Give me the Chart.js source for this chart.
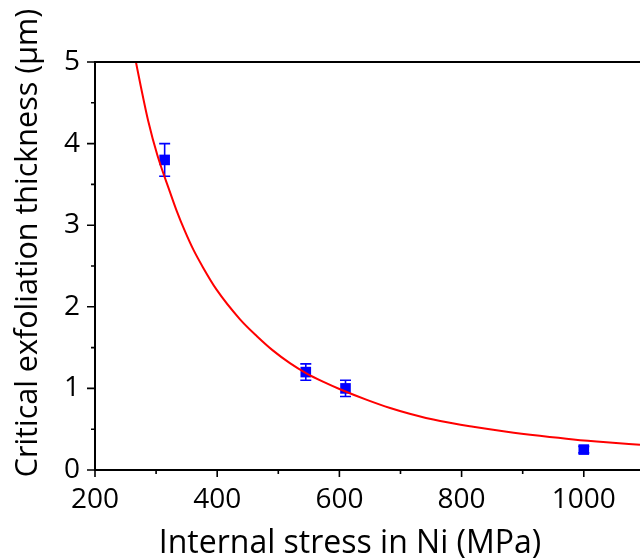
<!DOCTYPE html>
<html>
<head>
<meta charset="utf-8">
<script src="https://cdn.jsdelivr.net/npm/chart.js@4.4.1/dist/chart.umd.min.js"></script>
<style>
  html, body { margin: 0; padding: 0; background: #fff; }
  #wrap { position: relative; width: 640px; height: 559px; }
</style>
</head>
<body>
<div id="wrap"><canvas id="chart"></canvas></div>
<script>
// measured points (with error bars)
const stress = [314, 545, 610, 1000];
const thickness = [3.8, 1.2, 1.0, 0.25];
const thicknessErr = [0.2, 0.1, 0.1, 0.04];

// fitted curve
const fitX = [267, 275, 287, 302, 323, 334, 347, 361, 377, 399, 437, 465, 492, 519, 546, 574, 601, 645, 683, 715, 765, 819, 874, 928, 983, 1037, 1092];
const fitY = [5.00, 4.70, 4.28, 3.86, 3.40, 3.17, 2.93, 2.70, 2.48, 2.21, 1.85, 1.64, 1.46, 1.31, 1.185, 1.08, 0.99, 0.86, 0.76, 0.69, 0.60, 0.53, 0.47, 0.42, 0.375, 0.34, 0.31];

// axis ticks
const xMajor = [200, 400, 600, 800, 1000];
const xMinor = [300, 500, 700, 900];
const yMajor = [0, 1, 2, 3, 4, 5];
const yMinor = [0.5, 1.5, 2.5, 3.5, 4.5];

const xTitle = 'Internal stress in Ni (MPa)';
const yTitle = 'Critical exfoliation thickness (\u03bcm)';

const FONT = '"Open Sans", "Liberation Sans", sans-serif';

// error bars under the markers
const errorBars = {
  id: 'errorBars',
  beforeDatasetsDraw(chart) {
    const { ctx, scales: { x, y } } = chart;
    ctx.save();
    ctx.strokeStyle = '#0000ff';
    ctx.lineWidth = 1.6;
    stress.forEach((sx, i) => {
      const px = x.getPixelForValue(sx);
      const top = y.getPixelForValue(thickness[i] + thicknessErr[i]);
      const bot = y.getPixelForValue(thickness[i] - thicknessErr[i]);
      ctx.beginPath();
      ctx.moveTo(px, top); ctx.lineTo(px, bot);
      ctx.moveTo(px - 5.5, top); ctx.lineTo(px + 5.5, top);
      ctx.moveTo(px - 5.5, bot); ctx.lineTo(px + 5.5, bot);
      ctx.stroke();
    });
    ctx.restore();
  }
};

// axes lines, outward ticks, titles
const frame = {
  id: 'frame',
  afterDraw(chart) {
    const { ctx, chartArea: a, scales: { x, y } } = chart;
    ctx.save();
    ctx.strokeStyle = '#000';
    ctx.lineWidth = 2;
    ctx.beginPath();
    ctx.moveTo(a.left, a.top - 1); ctx.lineTo(a.left, a.bottom + 1);
    ctx.moveTo(a.left - 1, a.bottom); ctx.lineTo(a.right, a.bottom);
    ctx.moveTo(a.left - 1, a.top); ctx.lineTo(a.right, a.top);
    ctx.stroke();

    ctx.lineWidth = 1.6;
    ctx.beginPath();
    xMajor.forEach(v => { const p = x.getPixelForValue(v); ctx.moveTo(p, a.bottom); ctx.lineTo(p, a.bottom + 7); });
    xMinor.forEach(v => { const p = x.getPixelForValue(v); ctx.moveTo(p, a.bottom); ctx.lineTo(p, a.bottom + 4); });
    yMajor.forEach(v => { const p = y.getPixelForValue(v); ctx.moveTo(a.left, p); ctx.lineTo(a.left - 8, p); });
    yMinor.forEach(v => { const p = y.getPixelForValue(v); ctx.moveTo(a.left, p); ctx.lineTo(a.left - 4, p); });
    ctx.stroke();

    ctx.fillStyle = '#000';
    ctx.textAlign = 'center';
    ctx.textBaseline = 'alphabetic';
    ctx.font = '32px ' + FONT;
    ctx.fillText(xTitle, 350, 553);

    ctx.translate(37, 243);
    ctx.rotate(-Math.PI / 2);
    ctx.font = '30.5px ' + FONT;
    ctx.fillText(yTitle, 0, 0);
    ctx.restore();
  }
};

new Chart(document.getElementById('chart'), {
  data: {
    datasets: [
      {
        type: 'line',
        data: fitX.map((v, i) => ({ x: v, y: fitY[i] })),
        borderColor: '#ff0000',
        borderWidth: 2,
        pointRadius: 0,
        cubicInterpolationMode: 'monotone',
        fill: false
      },
      {
        type: 'scatter',
        data: stress.map((v, i) => ({ x: v, y: thickness[i] })),
        pointStyle: 'rect',
        pointRadius: 7.5,
        backgroundColor: '#0000ff',
        borderColor: '#0000ff',
        borderWidth: 0
      }
    ]
  },
  options: {
    responsive: true,
    maintainAspectRatio: false,
    devicePixelRatio: 1,
    animation: false,
    layout: { autoPadding: false, padding: { top: 62, left: 0, right: 0, bottom: 0 } },
    plugins: { legend: { display: false }, tooltip: { enabled: false } },
    scales: {
      x: {
        type: 'linear',
        min: 200, max: 1092,
        afterBuildTicks: s => { s.ticks = xMajor.map(v => ({ value: v })); },
        afterFit: s => { s.height = 89; },
        grid: { display: false, drawTicks: false },
        border: { display: false },
        ticks: { color: '#000', padding: 13, maxRotation: 0, autoSkip: false, callback: v => String(v), font: { family: FONT, size: 28 } }
      },
      y: {
        type: 'linear',
        min: 0, max: 5,
        afterBuildTicks: s => { s.ticks = yMajor.map(v => ({ value: v })); },
        afterFit: s => { s.width = 95; },
        grid: { display: false, drawTicks: false },
        border: { display: false },
        ticks: { color: '#000', padding: 15, autoSkip: false, callback: v => String(v), font: { family: FONT, size: 28 } }
      }
    }
  },
  plugins: [errorBars, frame]
});
</script>
</body>
</html>
